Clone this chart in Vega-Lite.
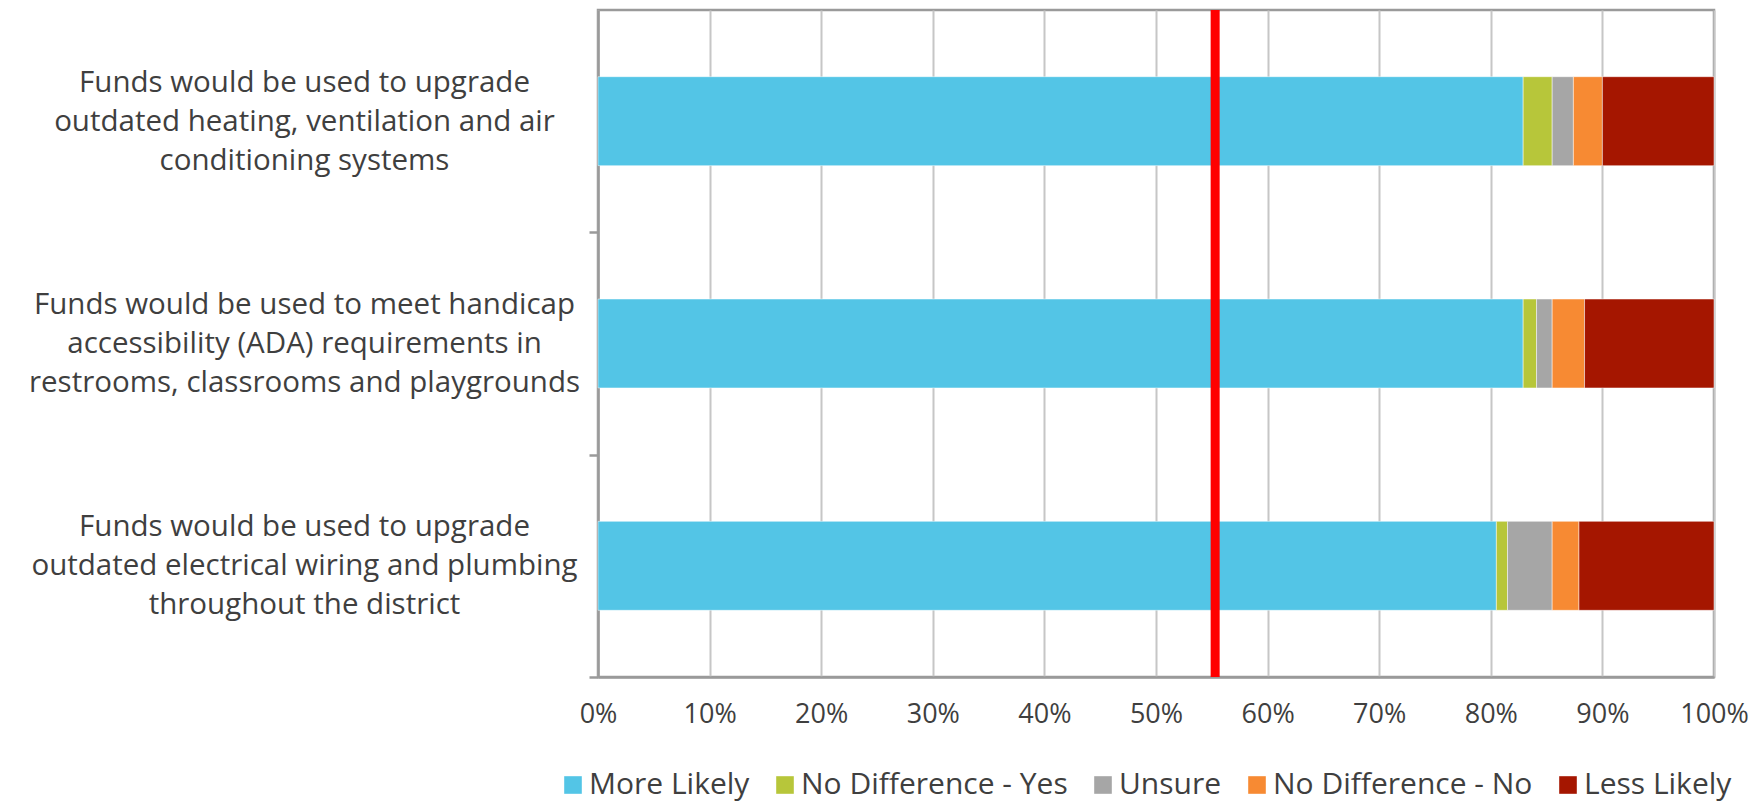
{
  "$schema": "https://vega.github.io/schema/vega-lite/v6.json",
  "width": 1116,
  "height": 667,
  "autosize": {"type": "none"},
  "padding": {"left": 598, "top": 10, "right": 48, "bottom": 125},
  "background": "white",
  "config": {
    "view": {"stroke": "#9a9a9a", "strokeWidth": 2.5},
    "font": "Open Sans",
    "axis": {"labelFont": "Open Sans", "labelColor": "#3f3f3f", "title": null}
  },
  "datasets": {
    "resp": [
      {"cat": "Funds would be used to upgrade|outdated heating, ventilation and air|conditioning systems", "resp": "More Likely", "k": 1, "v": 0.829},
      {"cat": "Funds would be used to upgrade|outdated heating, ventilation and air|conditioning systems", "resp": "No Difference - Yes", "k": 2, "v": 0.026},
      {"cat": "Funds would be used to upgrade|outdated heating, ventilation and air|conditioning systems", "resp": "Unsure", "k": 3, "v": 0.019},
      {"cat": "Funds would be used to upgrade|outdated heating, ventilation and air|conditioning systems", "resp": "No Difference - No", "k": 4, "v": 0.026},
      {"cat": "Funds would be used to upgrade|outdated heating, ventilation and air|conditioning systems", "resp": "Less Likely", "k": 5, "v": 0.100},
      {"cat": "Funds would be used to meet handicap|accessibility (ADA) requirements in|restrooms, classrooms and playgrounds", "resp": "More Likely", "k": 1, "v": 0.829},
      {"cat": "Funds would be used to meet handicap|accessibility (ADA) requirements in|restrooms, classrooms and playgrounds", "resp": "No Difference - Yes", "k": 2, "v": 0.012},
      {"cat": "Funds would be used to meet handicap|accessibility (ADA) requirements in|restrooms, classrooms and playgrounds", "resp": "Unsure", "k": 3, "v": 0.014},
      {"cat": "Funds would be used to meet handicap|accessibility (ADA) requirements in|restrooms, classrooms and playgrounds", "resp": "No Difference - No", "k": 4, "v": 0.029},
      {"cat": "Funds would be used to meet handicap|accessibility (ADA) requirements in|restrooms, classrooms and playgrounds", "resp": "Less Likely", "k": 5, "v": 0.116},
      {"cat": "Funds would be used to upgrade|outdated electrical wiring and plumbing|throughout the district", "resp": "More Likely", "k": 1, "v": 0.805},
      {"cat": "Funds would be used to upgrade|outdated electrical wiring and plumbing|throughout the district", "resp": "No Difference - Yes", "k": 2, "v": 0.010},
      {"cat": "Funds would be used to upgrade|outdated electrical wiring and plumbing|throughout the district", "resp": "Unsure", "k": 3, "v": 0.040},
      {"cat": "Funds would be used to upgrade|outdated electrical wiring and plumbing|throughout the district", "resp": "No Difference - No", "k": 4, "v": 0.024},
      {"cat": "Funds would be used to upgrade|outdated electrical wiring and plumbing|throughout the district", "resp": "Less Likely", "k": 5, "v": 0.121}
    ],
    "ref": [{"ref": 0.553}]
  },
  "layer": [
    {
      "data": {"name": "resp"},
      "mark": {"type": "bar", "stroke": "white", "strokeWidth": 0.8, "strokeOpacity": 0.6},
      "encoding": {
        "y": {
          "field": "cat", "type": "nominal", "sort": null,
          "scale": {"paddingInner": 0.6, "paddingOuter": 0.3},
          "axis": {
            "title": null,
            "labelExpr": "split(datum.label, '|')",
            "labelFontSize": 29.5,
            "labelLineHeight": 39,
            "labelAlign": "center",
            "labelBaseline": "middle",
            "labelPadding": 285,
            "labelLimit": 0,
            "tickSize": 9,
            "tickColor": "#9a9a9a",
            "tickWidth": 2.5,
            "tickOffset": 111.3,
            "labelOffset": -150.3,
            "domainColor": "#9a9a9a",
            "domainWidth": 2.5,
            "grid": false
          }
        },
        "x": {
          "field": "v", "type": "quantitative", "stack": "zero",
          "scale": {"domain": [0, 1], "nice": false},
          "axis": {
            "title": null,
            "format": ".0%",
            "values": [0, 0.1, 0.2, 0.3, 0.4, 0.5, 0.6, 0.7, 0.8, 0.9, 1],
            "labelFontSize": 27,
            "labelPadding": 24,
            "labelFlush": false,
            "labelOverlap": false,
            "tickSize": 0,
            "grid": true,
            "gridColor": "#c6c6c6",
            "gridWidth": 2,
            "domainColor": "#9a9a9a",
            "domainWidth": 2.5
          }
        },
        "order": {"field": "k", "type": "quantitative"},
        "color": {
          "field": "resp", "type": "nominal",
          "sort": ["More Likely", "No Difference - Yes", "Unsure", "No Difference - No", "Less Likely"],
          "scale": {
            "domain": ["More Likely", "No Difference - Yes", "Unsure", "No Difference - No", "Less Likely"],
            "range": ["#53C5E6", "#B7C63A", "#A6A6A6", "#F78A33", "#A51600"]
          },
          "legend": {
            "title": null,
            "orient": "none",
            "legendX": -40,
            "legendY": 760,
            "direction": "horizontal",
            "columns": 5,
            "labelFont": "Open Sans",
            "labelFontSize": 30,
            "labelColor": "#3f3f3f",
            "labelLimit": 0,
            "labelOffset": 1,
            "symbolType": "square",
            "symbolSize": 310,
            "symbolStrokeWidth": 0,
            "columnPadding": 20
          }
        }
      }
    },
    {
      "data": {"name": "ref"},
      "mark": {"type": "rule", "color": "#FF0000", "strokeWidth": 9},
      "encoding": {
        "x": {"field": "ref", "type": "quantitative"}
      }
    }
  ]
}
